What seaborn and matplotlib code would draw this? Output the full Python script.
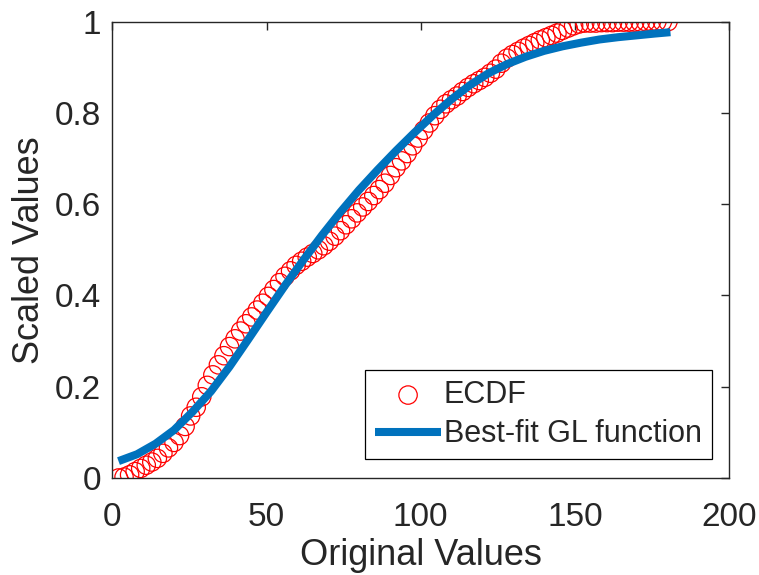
import matplotlib
matplotlib.use("Agg")
import matplotlib.pyplot as plt
import seaborn as sns
import pandas as pd

# ---- data ----
ecdf_x = [2.0, 3.8, 5.6, 7.4, 9.2, 11.0, 12.8, 14.6, 16.4, 18.2,
          20.0, 21.8, 23.6, 25.4, 27.2, 29.0, 30.8, 32.6, 34.4, 36.2,
          38.0, 39.8, 41.6, 43.4, 45.2, 47.0, 48.8, 50.6, 52.4, 54.2,
          56.0, 57.8, 59.6, 61.4, 63.2, 65.0, 66.8, 68.6, 70.4, 72.2,
          74.0, 75.8, 77.6, 79.4, 81.2, 83.0, 84.8, 86.6, 88.4, 90.2,
          92.0, 93.8, 95.6, 97.4, 99.2, 101.0, 102.8, 104.6, 106.4, 108.2,
          110.0, 111.8, 113.6, 115.4, 117.2, 119.0, 120.8, 122.6, 124.4, 126.2,
          128.0, 129.8, 131.6, 133.4, 135.2, 137.0, 138.8, 140.6, 142.4, 144.2,
          146.0, 147.8, 149.6, 151.4, 153.2, 155.0, 156.8, 158.6, 160.4, 162.2,
          164.0, 165.8, 167.6, 169.4, 171.2, 173.0, 174.8, 176.6, 178.4, 180.2]
ecdf_y = [0.000, 0.002, 0.007, 0.014, 0.021, 0.028, 0.035, 0.043, 0.054, 0.066,
          0.078, 0.093, 0.113, 0.136, 0.155, 0.178, 0.203, 0.226, 0.248, 0.268,
          0.288, 0.305, 0.322, 0.338, 0.353, 0.368, 0.383, 0.398, 0.413, 0.428,
          0.442, 0.454, 0.466, 0.475, 0.484, 0.492, 0.500, 0.509, 0.519, 0.530,
          0.542, 0.555, 0.568, 0.581, 0.594, 0.606, 0.619, 0.632, 0.646, 0.663,
          0.680, 0.695, 0.711, 0.728, 0.745, 0.762, 0.778, 0.794, 0.808, 0.820,
          0.829, 0.837, 0.847, 0.856, 0.864, 0.871, 0.878, 0.887, 0.896, 0.909,
          0.920, 0.928, 0.935, 0.942, 0.948, 0.954, 0.960, 0.965, 0.970, 0.975,
          0.981, 0.986, 0.991, 0.995, 0.997, 0.997, 0.997, 0.998, 0.998, 0.998,
          0.999, 0.999, 0.999, 0.999, 0.999, 1.000, 1.000, 1.000, 1.000, 1.000]

fit_x = [2, 8, 14, 20, 26, 32, 38, 44, 50, 56, 62, 68, 74, 80, 86, 92,
         98, 104, 110, 116, 122, 128, 134, 140, 146, 152, 158, 164, 170, 176, 181]
fit_y = [0.037, 0.052, 0.075, 0.105, 0.145, 0.190, 0.244, 0.303, 0.363, 0.422,
         0.478, 0.532, 0.583, 0.631, 0.675, 0.717, 0.757, 0.795, 0.830, 0.861,
         0.887, 0.907, 0.923, 0.936, 0.946, 0.954, 0.961, 0.966, 0.970, 0.974, 0.977]

x_ticks = [0, 50, 100, 150, 200]
y_ticks = [0, 0.2, 0.4, 0.6, 0.8, 1]
y_tick_labels = ["0", "0.2", "0.4", "0.6", "0.8", "1"]

sns.set_style("white")
plt.rcParams["font.family"] = ["Liberation Sans", "DejaVu Sans"]

ink = "#262626"
blue = "#0072BD"

fig = plt.figure(figsize=(7.59, 5.75), dpi=100)
ax = fig.add_axes([0.148, 0.1687, 0.8125, 0.7936])

ecdf_df = pd.DataFrame({"x": ecdf_x, "y": ecdf_y})
fit_df = pd.DataFrame({"x": fit_x, "y": fit_y})

sns.scatterplot(data=ecdf_df, x="x", y="y", ax=ax, marker="o", s=175,
                facecolor="none", edgecolor="red", linewidth=0.9,
                label="ECDF", zorder=2)
sns.lineplot(data=fit_df, x="x", y="y", ax=ax, color=blue, linewidth=5.8,
             label="Best-fit GL function", zorder=3, solid_capstyle="butt",
             solid_joinstyle="round", sort=False, estimator=None)

ax.set_xlim(0, 200)
ax.set_ylim(0, 1)
ax.set_xticks(x_ticks)
ax.set_xticklabels([str(t) for t in x_ticks])
ax.set_yticks(y_ticks)
ax.set_yticklabels(y_tick_labels)

ax.tick_params(axis="both", which="both", direction="in", length=6, width=1,
               colors=ink, labelsize=24, top=True, right=True,
               labelcolor=ink)
ax.tick_params(axis="x", pad=17)
ax.tick_params(axis="y", pad=8)
for sp in ax.spines.values():
    sp.set_visible(True)
    sp.set_color(ink)
    sp.set_linewidth(1.0)

ax.set_xlabel("Original Values", fontsize=26, color=ink, labelpad=4)
ax.set_ylabel("Scaled Values", fontsize=26, color=ink, labelpad=6)

leg = ax.legend(loc="lower right", bbox_to_anchor=(0.972, 0.0416),
                borderaxespad=0, fontsize=22, frameon=True, fancybox=False,
                edgecolor="black", framealpha=1, handlelength=2.15,
                handletextpad=0.1, labelspacing=0.3, borderpad=0.32)
leg.get_frame().set_linewidth(0.9)

fig.savefig("out.png", dpi=100)
